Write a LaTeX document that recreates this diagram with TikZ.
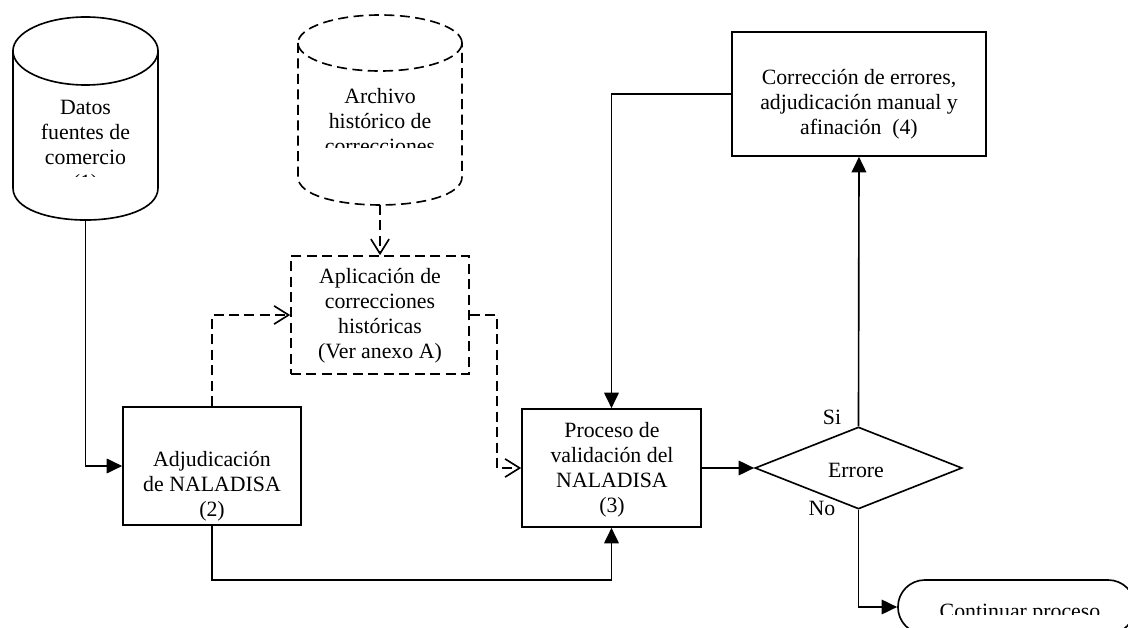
\documentclass[tikz,border=0pt]{standalone}
\usepackage{fontspec}
\setmainfont{Liberation Serif}
\usetikzlibrary{arrows.meta,shapes.geometric}

\tikzset{
  caja/.style={draw,line width=0.9pt,inner sep=0pt},
  txt/.style={align=center,font=\fontsize{12}{13.8}\selectfont},
  flecha/.style={line width=0.9pt,-{Triangle[length=8.5pt,width=8pt]}},
  punteada/.style={line width=0.9pt,dash pattern=on 5.5pt off 3pt},
  flechap/.style={punteada,-{Straight Barb[length=8pt,width=10pt]}}
}

\begin{document}
\begin{tikzpicture}[x=0.55pt,y=-0.55pt]
\clip (0,0) rectangle (1128,628);

\draw[line width=0.9pt] (85.5,51) ellipse [x radius=39.9pt,y radius=18.7pt];
\draw[line width=0.9pt] (13,51) -- (13,188) .. controls (13,230.7) and (158,230.7) .. (158,188) -- (158,51);
\coordinate (datos) at (85.5,220);
\begin{scope}
\clip (13,60) rectangle (158,177);
\node[txt] (tdatos) at (85.5,147.5) {Datos\\fuentes de\\comercio\\(1)};
\end{scope}

\draw[punteada] (380,43) ellipse [x radius=45.1pt,y radius=15.4pt];
\draw[punteada] (298,43) -- (298,177) .. controls (298,214.3) and (462,214.3) .. (462,177) -- (462,43);
\coordinate (archivo) at (380,205);
\begin{scope}
\clip (298,60) rectangle (462,148);
\node[txt] (tarchivo) at (380,121) {Archivo\\histórico de\\correcciones};
\end{scope}

\node[caja,minimum width=97.9pt,minimum height=64.9pt] (adj) at (212,466) {};
\node[caja,punteada,minimum width=97.9pt,minimum height=64.9pt] (apl) at (380,315) {};
\node[caja,minimum width=98.45pt,minimum height=64.9pt] (proc) at (611.5,468) {};
\node[caja,minimum width=139.7pt,minimum height=68.2pt] (corr) at (859,94) {};
\node[caja,diamond,minimum width=113.9pt,minimum height=45.1pt] (dia) at (858.5,468) {};
\node[caja,rounded corners=14.8pt,minimum width=130.4pt,minimum height=29.7pt] (term) at (1016.5,607) {};

\node[txt] (tadj) at (212,486) {Adjudicación\\de NALADISA\\(2)};
\node[txt] (tapl) at (380,316) {Aplicación de\\correcciones\\históricas\\(Ver anexo A)};
\node[txt] (tproc) at (612,470) {Proceso de\\validación del\\NALADISA\\(3)};
\node[txt] (tcorr) at (859,104) {Corrección de errores,\\adjudicación manual y\\afinación~~(4)};
\node[txt] (tdia) at (856,470) {Errore};
\node[txt] (tsi) at (832,417) {Si};
\node[txt] (tno) at (822,508) {No};
\begin{scope}
\clip (898,580) rectangle (1128,615);
\node[txt] (tterm) at (1020,614) {Continuar proceso};
\end{scope}

\draw[flecha] (datos) |- (adj.west);
\draw[flechap] (adj.north) |- (apl.west);
\draw[flechap] (archivo) -- (apl.north);
\draw[flechap] (apl.east) -- ++(27,0) |- (proc.west);
\draw[flecha] (adj.south) -- ++(0,54) -| (proc.south);
\draw[flecha] (proc.east) -- (dia.west);
\draw[flecha] (dia.north) -- (corr.south);
\draw[flecha] (corr.west) -| (proc.north);
\draw[flecha] (dia.south) |- (term.west);
\end{tikzpicture}
\end{document}
